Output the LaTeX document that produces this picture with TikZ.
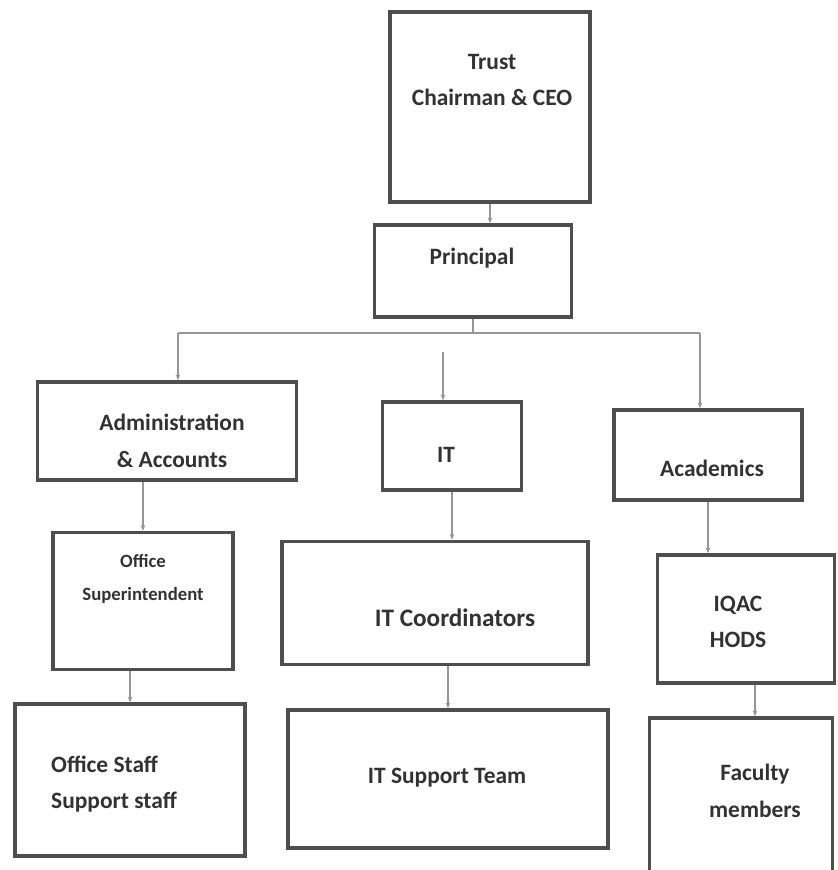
\documentclass[tikz,border=0pt]{standalone}
\usepackage{fontspec}
\setmainfont{Carlito}
\usetikzlibrary{arrows.meta}
\definecolor{boxgray}{RGB}{78,78,78}
\definecolor{textgray}{RGB}{50,50,50}
\definecolor{linegray}{RGB}{150,150,150}

\begin{document}
\begin{tikzpicture}[x=0.03cm, y=-0.03cm,
    box/.style={rectangle, draw=boxgray, line width=3pt, inner sep=0pt},
    txt/.style={text=textgray, font=\bfseries\fontsize{20}{31}\selectfont, align=center},
    smalltxt/.style={text=textgray, font=\bfseries\fontsize{16}{28}\selectfont, align=center},
    conn/.style={draw=linegray, line width=1pt, -{Stealth[length=5pt,width=4pt]}}]
            \path[use as bounding box, clip] (0,0) rectangle (837,870);

            % Boxes
            \node[box, minimum width=6cm, minimum height=5.7cm] (trust) at (490,107) {};
            \node[box, minimum width=5.91cm, minimum height=2.76cm] (principal) at (473,271) {};
            \node[box, minimum width=7.77cm, minimum height=2.94cm] (admin) at (167,431) {};
            \node[box, minimum width=4.17cm, minimum height=2.64cm] (it) at (452,446) {};
            \node[box, minimum width=5.64cm, minimum height=2.7cm] (acad) at (708,455) {};
            \node[box, minimum width=5.4cm, minimum height=4.11cm] (super) at (143,601) {};
            \node[box, minimum width=9.18cm, minimum height=3.69cm] (itcoord) at (435,603) {};
            \node[box, minimum width=5.31cm, minimum height=3.84cm] (iqac) at (746,619) {};
            \node[box, minimum width=6.9cm, minimum height=4.56cm] (staff) at (130,780) {};
            \node[box, minimum width=9.6cm, minimum height=4.14cm] (itsupport) at (448,779) {};
            \node[box, minimum width=5.49cm, minimum height=5.46cm] (faculty) at (741,809) {};

            % Texts
            \node[txt] (trustTxt) at (492,80) {Trust\\Chairman \& CEO};
            \node[txt] (principalTxt) at (472,258) {Principal};
            \node[txt] (adminTxt) at (172,441) {Administration\\\& Accounts};
            \node[txt] (itTxt) at (446,455) {IT};
            \node[txt] (acadTxt) at (712,468) {Academics};
            \node[smalltxt] (superTxt) at (143,579) {Office\\Superintendent};
            \node[txt, font=\bfseries\fontsize{21.5}{31}\selectfont] (itcoordTxt) at (455,618) {IT Coordinators};
            \node[txt] (iqacTxt) at (738,622) {IQAC\\HODS};
            \node[txt, align=left] (staffTxt) at (114,784) {Office Staff\\Support staff};
            \node[txt] (itsupportTxt) at (447,778) {IT Support Team};
            \node[txt] (facultyTxt) at (755,791) {Faculty\\members};

            % Bus
            \coordinate (busL) at (178,333);
            \coordinate (busR) at (700,333);
            \coordinate (busM) at (443,352);
            \draw[draw=linegray, line width=1pt] (busL) -- (busR);

            % Edges
            \draw[conn] (trust.south) -- (trust.south |- principal.north);
            \draw[draw=linegray, line width=1pt] (principal.south) -- (principal.south |- busL);
            \draw[conn] (busL) -- (busL |- admin.north);
            \draw[conn] (busM) -- (busM |- it.north);
            \draw[conn] (busR) -- (busR |- acad.north);
            \draw[conn] (super.north |- admin.south) -- (super.north);
            \draw[conn] (it.south) -- (it.south |- itcoord.north);
            \draw[conn] (acad.south) -- (acad.south |- iqac.north);
            \draw[conn] (staff.north |- super.south) -- (staff.north);
            \draw[conn] (itsupport.north |- itcoord.south) -- (itsupport.north);
            \draw[conn] (iqac.south -| facultyTxt) -- (facultyTxt |- faculty.north);
        \end{tikzpicture}
\end{document}
